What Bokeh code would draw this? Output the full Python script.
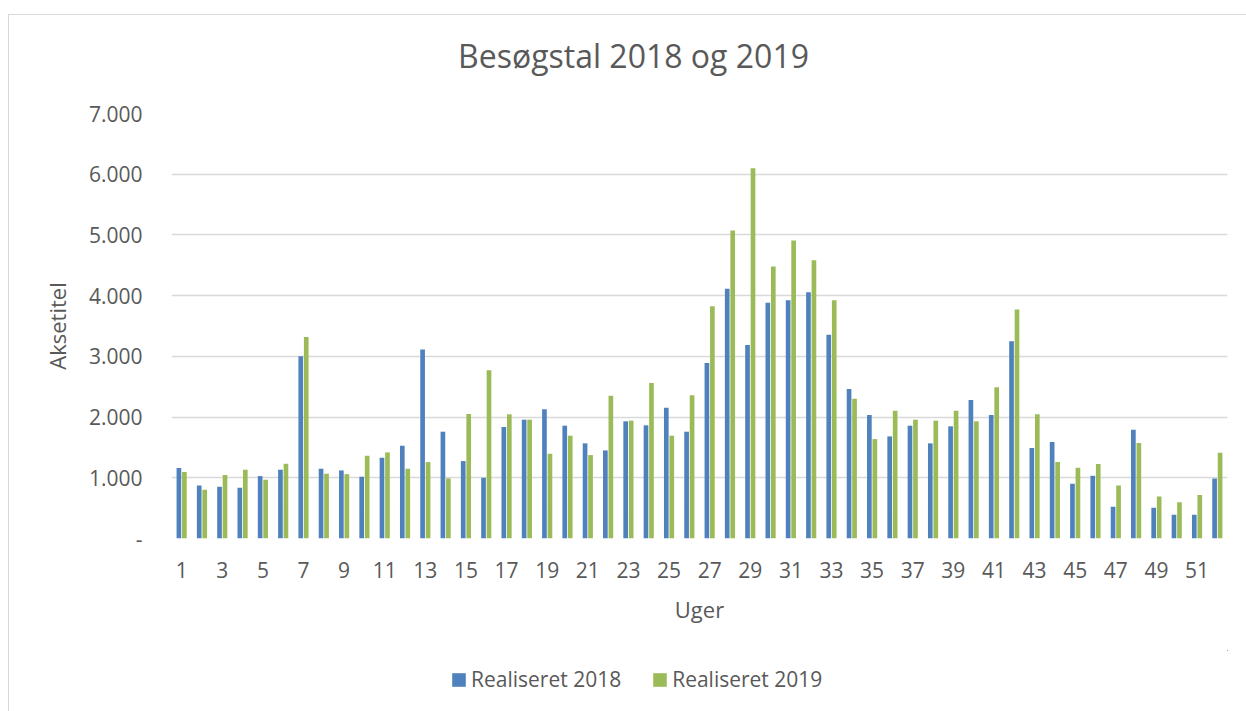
from bokeh.plotting import figure
from bokeh.layouts import column
from bokeh.models import (Range1d, FixedTicker, Legend, LegendItem, Label,
                          ColumnDataSource)
from bokeh.transform import dodge
from bokeh.embed import file_html
from bokeh.resources import INLINE

weeks = list(range(1, 53))
realiseret_2018 = [1160, 874, 852, 836, 1028, 1133, 3002, 1149, 1121, 1017,
                   1330, 1528, 3112, 1759, 1275, 1000, 1836, 1957, 2128, 1858,
                   1567, 1451, 1930, 1864, 2155, 1759, 2892, 4112, 3189, 3881,
                   3925, 4057, 3354, 2463, 2034, 1682, 1858, 1567, 1847, 2282,
                   2034, 3249, 1490, 1589, 902, 1034, 522, 1792, 506, 390,
                   390, 990]
realiseret_2019 = [1094, 803, 1045, 1133, 968, 1231, 3320, 1067, 1061, 1363,
                   1418, 1149, 1259, 990, 2051, 2771, 2045, 1957, 1396, 1693,
                   1374, 2353, 1941, 2562, 1693, 2358, 3826, 5074, 6097, 4480,
                   4909, 4585, 3925, 2303, 1638, 2106, 1957, 1941, 2106, 1930,
                   2490, 3771, 2045, 1259, 1165, 1226, 874, 1572, 693, 599,
                   715, 1413]
series_names = ["Realiseret 2018", "Realiseret 2019"]
chart_title = "Besøgstal 2018 og 2019"
x_ticks = list(range(1, 53, 2))
y_ticks = [0, 1000, 2000, 3000, 4000, 5000, 6000, 7000]
y_tick_labels = ["-", "1.000", "2.000", "3.000", "4.000", "5.000", "6.000", "7.000"]

FONT = "Open Sans"
GREY = "#595959"
BLUE = "#4f81bd"
GREEN = "#9bbb59"

source = ColumnDataSource(dict(week=weeks, r2018=realiseret_2018, r2019=realiseret_2019))


def strip(height, x_range, y_range):
    f = figure(width=1237, height=height, output_backend="svg",
               toolbar_location=None, x_range=x_range, y_range=y_range,
               x_axis_location=None, y_axis_location=None, min_border=0,
               background_fill_color="white", border_fill_color="white",
               title=None)
    f.outline_line_color = None
    f.grid.visible = False
    return f


# ---------------- title strip ----------------
top = strip(70, Range1d(0, 1), Range1d(0, 1))
top.add_layout(Label(x=462, y=30, x_units="screen", y_units="screen",
                     text=chart_title, text_align="center",
                     text_baseline="alphabetic", text_font=FONT,
                     text_font_size="32px", text_color=GREY))

# ---------------- main chart ----------------
p = figure(width=1237, height=565, output_backend="svg", toolbar_location=None,
           x_range=Range1d(0.5, 52.5), y_range=Range1d(0, 7000),
           min_border_left=162, min_border_right=19, min_border_top=28,
           min_border_bottom=112, background_fill_color="white",
           border_fill_color="white", title=None)
p.outline_line_color = None

p.vbar(x=dodge("week", -0.135, range=p.x_range), top="r2018", width=0.23,
       source=source, fill_color=BLUE, line_color=None)
p.vbar(x=dodge("week", 0.135, range=p.x_range), top="r2019", width=0.23,
       source=source, fill_color=GREEN, line_color=None)

p.xaxis.ticker = FixedTicker(ticks=x_ticks)
p.yaxis.ticker = FixedTicker(ticks=y_ticks)
p.yaxis.major_label_overrides = {t: l for t, l in zip(y_ticks, y_tick_labels)}
for ax in (p.xaxis[0], p.yaxis[0]):
    ax.axis_line_color = None
    ax.major_tick_line_color = None
    ax.minor_tick_line_color = None
    ax.major_label_text_font = FONT
    ax.major_label_text_color = GREY
    ax.major_label_text_font_size = "21px"
    ax.axis_label_text_font = FONT
    ax.axis_label_text_color = GREY
    ax.axis_label_text_font_size = "22px"
    ax.axis_label_text_font_style = "normal"
p.xaxis.axis_label = "Uger"
p.yaxis.axis_label = "Aksetitel"
p.yaxis.major_label_standoff = 23
p.yaxis.axis_label_standoff = 14
p.xaxis.major_label_standoff = 17
p.xaxis.axis_label_standoff = 13

p.xgrid.grid_line_color = None
p.ygrid.grid_line_color = "#d9d9d9"
p.ygrid.grid_line_width = 1.3

# ---------------- legend strip ----------------
# the series are re-used here only as legend swatches; their bars fall
# outside this strip's range, so only the legend shows
leg = strip(61, Range1d(-3, -2), Range1d(-2e6, -1e6))
l1 = leg.vbar(x="week", top="r2018", width=0.23, source=source,
              fill_color=BLUE, line_color=None)
l2 = leg.vbar(x="week", top="r2019", width=0.23, source=source,
              fill_color=GREEN, line_color=None)
legend = Legend(items=[LegendItem(label=series_names[0], renderers=[l1]),
                       LegendItem(label=series_names[1], renderers=[l2])],
                location=(279, 18), orientation="horizontal",
                glyph_width=17, glyph_height=17, label_standoff=4,
                spacing=30, padding=0, margin=0, border_line_color=None,
                background_fill_alpha=0, label_text_font=FONT,
                label_text_font_size="21px", label_text_color=GREY,
                label_height=28)
leg.add_layout(legend, "center")

layout = column(top, p, leg, spacing=0)
layout.styles = {"margin-top": "14px", "margin-left": "8px",
                 "border-top": "1px solid #d9d9d9",
                 "border-left": "1px solid #d9d9d9"}
open("out.html", "w").write(file_html(layout, INLINE))
